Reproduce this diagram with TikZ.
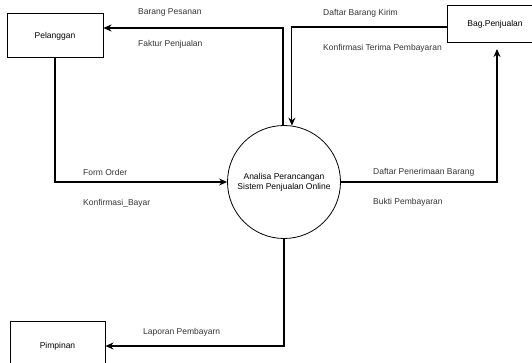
\documentclass[tikz,border=0pt]{standalone}
\usepackage{fontspec}
\setmainfont{Liberation Sans}
\usetikzlibrary{arrows.meta,positioning}

\begin{document}
\begin{tikzpicture}[x=1pt,y=-1pt,font=\fontsize{8.5}{10}\selectfont]
	\tikzstyle{entity}=[draw=black, line width=1pt, text centered, inner sep=0pt]
	\tikzstyle{process}=[draw=black, line width=0.8pt, circle, minimum size=113pt, inner sep=0pt, align=center]
	\tikzstyle{flow}=[-{Stealth[length=8pt,width=7pt]}, draw=black, line width=1.1pt]
	\tikzstyle{label}=[anchor=west, inner sep=0pt, text=black!80]

	\clip (0,0) rectangle (532,363);

	\node (pel) [entity, minimum width=96pt, minimum height=44pt] at (55,36) {Pelanggan};
	\node (bag) [entity, minimum width=96pt, minimum height=37pt] at (495,24.5) {Bag.Penjualan\hspace{6pt}};
	\node (pim) [entity, minimum width=95pt, minimum height=50pt] at (57.5,346) {Pimpinan};
	\node (proc) [process] at (284,182) {Analisa Perancangan\\Sistem Penjualan Online};

	\coordinate (k1) at (283,28);
	\coordinate (k2) at (497,49);

	\node (l1) [label] at (138,12) {Barang Pesanan};
	\node (l2) [label] at (138,44) {Faktur Penjualan};
	\node (l3) [label] at (323,13) {Daftar Barang Kirim};
	\node (l4) [label] at (323,48) {Konfirmasi Terima Pembayaran};
	\node (l5) [label] at (83,172) {Form Order};
	\node (l6) [label] at (83,203) {Konfirmasi\_Bayar};
	\node (l7) [label] at (373,172) {Daftar Penerimaan Barang};
	\node (l8) [label] at (373,202) {Bukti Pembayaran};
	\node (l9) [label] at (143,332) {Laporan Pembayarn};

	\draw[flow] (proc.north -| k1) -- (k1) -- (pel.east |- k1);
	\draw[flow] (bag.west |- 0,27) -| (proc.82);
	\draw[flow] (pel.south) |- (proc.west);
	\draw[flow] (proc.east) -| (k2);
	\draw[flow] (proc.south) |- (pim.east);
\end{tikzpicture}
\end{document}
